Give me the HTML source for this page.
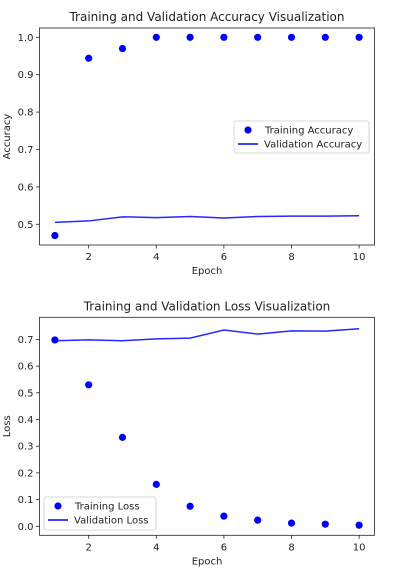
<!DOCTYPE html>
<html><head><meta charset="utf-8"><style>
body{margin:0;background:#fff;width:420px;height:573px;overflow:hidden}
text{font-family:"DejaVu Sans","Liberation Sans",sans-serif;fill:#222}
</style></head><body>
<svg id="c" width="420" height="573" xmlns="http://www.w3.org/2000/svg"></svg>
<script>
const epochs=[1,2,3,4,5,6,7,8,9,10];
const trainAcc=[0.47,0.944,0.97,1,1,1,1,1,1,1];
const valAcc=[0.505,0.509,0.52,0.518,0.521,0.517,0.521,0.522,0.522,0.523];
const trainLoss=[0.698,0.53,0.333,0.157,0.075,0.038,0.023,0.012,0.008,0.004];
const valLoss=[0.695,0.698,0.695,0.702,0.705,0.735,0.72,0.732,0.731,0.74];
const xTicks=[2,4,6,8,10];
const accTicks=[0.5,0.6,0.7,0.8,0.9,1.0];
const lossTicks=[0,0.1,0.2,0.3,0.4,0.5,0.6,0.7];
const svg=document.getElementById('c');
const NS='http://www.w3.org/2000/svg';
function mk(t,a,p){const e=document.createElementNS(NS,t);for(const k in a)e.setAttribute(k,a[k]);(p||svg).appendChild(e);return e;}
function panel(o){
 const g=mk('g',{});
 
 
 const L=39.5,R=374.5;
 const X=v=>54.9+(v-1)*33.8;
 const Y=v=>o.y0+(v-o.v0)*o.k;
 const t=mk('text',{x:207,y:o.top-7,'text-anchor':'middle','font-size':12},g);t.textContent=o.title;
 
 xTicks.forEach(v=>{mk('line',{x1:X(v),x2:X(v),y1:o.bot,y2:o.bot+3.5,stroke:'#222','stroke-width':0.8},g);
  const tt=mk('text',{x:X(v),y:o.bot+15,'text-anchor':'middle','font-size':10},g);tt.textContent=v;
  });
 o.ticks.forEach(v=>{mk('line',{x1:L-3.5,x2:L,y1:Y(v),y2:Y(v),stroke:'#222','stroke-width':0.8},g);
  const tt=mk('text',{x:L-6,y:Y(v)+3.5,'text-anchor':'end','font-size':10},g);tt.textContent=v.toFixed(1);
  });
 const xl=mk('text',{x:207,y:o.bot+29,'text-anchor':'middle','font-size':10},g);xl.textContent='Epoch';
 
 const cy=(o.top+o.bot)/2;
 const yl=mk('text',{x:10,y:cy,'text-anchor':'middle','font-size':10,transform:`rotate(-90 10 ${cy})`},g);yl.textContent=o.ylabel;
 
 const pl=mk('polyline',{points:epochs.map((e,i)=>X(e)+','+Y(o.val[i])).join(' '),fill:'none',stroke:'#0000ff','stroke-width':1.5,opacity:0.85},g);
 
 epochs.forEach((e,i)=>{const c=mk('circle',{cx:X(e),cy:Y(o.train[i]),r:3.6,fill:'#0000ff'},g);
  });
 mk('rect',{x:L,y:o.top,width:R-L,height:o.bot-o.top,fill:'none',stroke:'#222','stroke-width':0.8},g);
 const lg=mk('g',{},g);
 
 const b=o.leg;
 mk('rect',{x:b[0],y:b[1],width:b[2],height:b[3],fill:'#fff',stroke:'#ccc','stroke-width':0.8,rx:2},lg);
 mk('circle',{cx:b[0]+14,cy:b[1]+9,r:3.6,fill:'#0000ff'},lg);
 mk('line',{x1:b[0]+4,x2:b[0]+24,y1:b[1]+23,y2:b[1]+23,stroke:'#0000ff','stroke-width':1.5},lg);
 const a=mk('text',{x:b[0]+31,y:b[1]+12.5,'font-size':10},lg);a.textContent=o.l1;
 
 const c2=mk('text',{x:b[0]+30,y:b[1]+26.5,'font-size':10},lg);c2.textContent=o.l2;
 
}
panel({name:'accuracy-chart',title:'Training and Validation Accuracy Visualization',top:28,bot:245,y0:224.3,v0:0.5,k:-374,ticks:accTicks,train:trainAcc,val:valAcc,ylabel:'Accuracy',leg:[234,121,135,32],l1:'Training Accuracy',l2:'Validation Accuracy'});
panel({name:'loss-chart',title:'Training and Validation Loss Visualization',top:317.3,bot:535.3,y0:526.3,v0:0,k:-267,ticks:lossTicks,train:trainLoss,val:valLoss,ylabel:'Loss',leg:[44,497,112,33],l1:'Training Loss',l2:'Validation Loss'});
</script>
</body></html>
